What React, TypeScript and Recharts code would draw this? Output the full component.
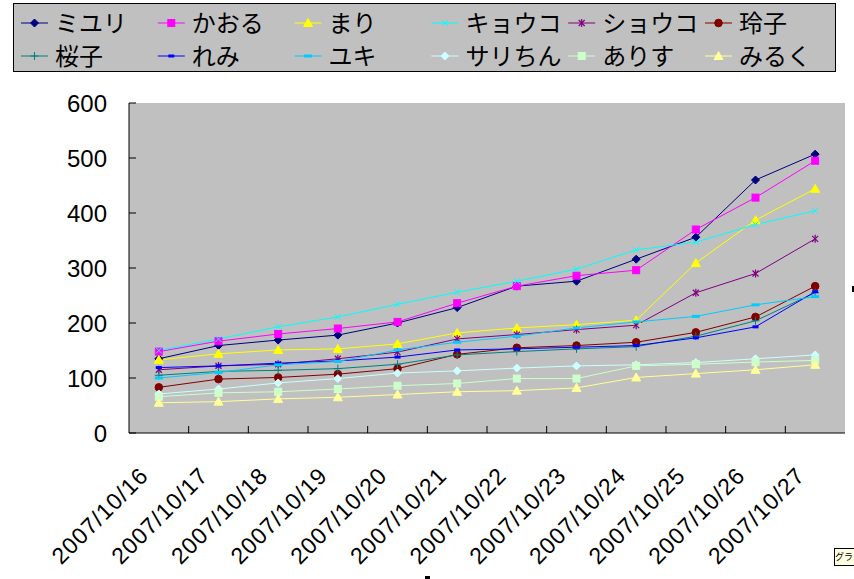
import { CartesianGrid, Legend, Line, LineChart, XAxis, YAxis } from 'recharts';

const dates = [
  '2007/10/16', '2007/10/17', '2007/10/18', '2007/10/19', '2007/10/20', '2007/10/21',
  '2007/10/22', '2007/10/23', '2007/10/24', '2007/10/25', '2007/10/26', '2007/10/27'
];
const yTicks = [0, 100, 200, 300, 400, 500, 600];

const miyuri = [135, 159, 169, 178, 200, 228, 267, 276, 316, 356, 460, 507];
const kaoru = [148, 167, 180, 190, 202, 236, 267, 286, 296, 370, 428, 495];
const mari = [133, 144, 151, 153, 162, 182, 191, 197, 205, 309, 387, 444];
const kyouko = [150, 171, 193, 211, 234, 256, 276, 298, 333, 347, 379, 404];
const shouko = [115, 122, 125, 135, 147, 171, 179, 188, 196, 255, 290, 353];
const reiko = [83, 98, 101, 107, 117, 143, 155, 159, 165, 183, 211, 267];
const sakurako = [105, 112, 114, 117, 125, 142, 148, 153, 157, 176, 204, 255];
const remi = [119, 122, 127, 131, 138, 151, 153, 156, 159, 173, 193, 257];
const yuki = [100, 110, 124, 130, 151, 165, 176, 191, 202, 212, 233, 248];
const sarichan = [71, 80, 91, 99, 109, 113, 118, 122, 124, 128, 135, 142];
const arisu = [66, 73, 75, 80, 86, 90, 99, 99, 122, 125, 129, 132];
const miruku = [55, 57, 62, 65, 70, 75, 77, 82, 101, 108, 115, 124];

const series = [
  { name: 'ミユリ', values: miyuri },
  { name: 'かおる', values: kaoru },
  { name: 'まり', values: mari },
  { name: 'キョウコ', values: kyouko },
  { name: 'ショウコ', values: shouko },
  { name: '玲子', values: reiko },
  { name: '桜子', values: sakurako },
  { name: 'れみ', values: remi },
  { name: 'ユキ', values: yuki },
  { name: 'サリちん', values: sarichan },
  { name: 'ありす', values: arisu },
  { name: 'みるく', values: miruku }
];

// excel-ish default palette + marker sequence
const styles = [
  { color: '#000080', marker: 'diamond' },
  { color: '#ff00ff', marker: 'square' },
  { color: '#ffff00', marker: 'triangle' },
  { color: '#00ffff', marker: 'x' },
  { color: '#800080', marker: 'star' },
  { color: '#800000', marker: 'circle' },
  { color: '#008080', marker: 'plus' },
  { color: '#0000ff', marker: 'dash' },
  { color: '#00ccff', marker: 'longdash' },
  { color: '#ccffff', marker: 'diamond' },
  { color: '#ccffcc', marker: 'square' },
  { color: '#ffff99', marker: 'triangle' }
];

const data = dates.map((date, i) => {
  const row: Record<string, string | number> = { date };
  series.forEach((s) => (row[s.name] = s.values[i]));
  return row;
});

const W = 854;
const H = 579;
const PLOT_LEFT = 129;
const PLOT_RIGHT = 845;
const HALF_BAND = (PLOT_RIGHT - PLOT_LEFT) / dates.length / 2;
const FONT = "'Liberation Sans', Arial, sans-serif";
const JP_FONT = "'Noto Sans CJK JP', sans-serif";

function Marker({ shape, cx, cy, color }: { shape: string; cx: number; cy: number; color: string }) {
  if (cx == null || cy == null) return null;
  switch (shape) {
    case 'diamond':
      return <polygon points={`${cx},${cy - 4} ${cx + 4},${cy} ${cx},${cy + 4} ${cx - 4},${cy}`} fill={color} stroke={color} />;
    case 'square':
      return <rect x={cx - 3.5} y={cy - 3.5} width={7} height={7} fill={color} stroke={color} />;
    case 'triangle':
      return <polygon points={`${cx},${cy - 4.5} ${cx + 4.5},${cy + 3.5} ${cx - 4.5},${cy + 3.5}`} fill={color} stroke={color} />;
    case 'x':
      return (
        <g stroke={color} strokeWidth={1}>
          <line x1={cx - 3} y1={cy - 3} x2={cx + 3} y2={cy + 3} />
          <line x1={cx - 3} y1={cy + 3} x2={cx + 3} y2={cy - 3} />
        </g>
      );
    case 'star':
      return (
        <g stroke={color} strokeWidth={1.2}>
          <line x1={cx - 3} y1={cy - 3} x2={cx + 3} y2={cy + 3} />
          <line x1={cx - 3} y1={cy + 3} x2={cx + 3} y2={cy - 3} />
          <line x1={cx} y1={cy - 4} x2={cx} y2={cy + 4} />
        </g>
      );
    case 'circle':
      return <circle cx={cx} cy={cy} r={3.8} fill={color} stroke={color} />;
    case 'plus':
      return (
        <g stroke={color} strokeWidth={1}>
          <line x1={cx - 4} y1={cy} x2={cx + 4} y2={cy} />
          <line x1={cx} y1={cy - 4} x2={cx} y2={cy + 4} />
        </g>
      );
    case 'dash':
      return <rect x={cx - 3} y={cy - 1.5} width={6} height={3} fill={color} />;
    case 'longdash':
      return <rect x={cx - 4} y={cy - 1.5} width={8} height={3} fill={color} />;
    default:
      return null;
  }
}

function LegendBox() {
  return (
    <svg width={W} height={76} style={{ display: 'block' }}>
      <rect x={13.5} y={3.5} width={822} height={68} fill="#c0c0c0" stroke="#000" />
      {series.map((s, i) => {
        const col = i % 6;
        const row = Math.floor(i / 6);
        const lx = 21 + col * 136.8;
        const ly = row === 0 ? 23 : 56;
        const st = styles[i];
        return (
          <g key={s.name}>
            <line x1={lx} y1={ly} x2={lx + 27} y2={ly} stroke={st.color} strokeWidth={1} />
            <Marker shape={st.marker} cx={lx + 13.5} cy={ly} color={st.color} />
            <text x={lx + 34} y={ly} dy="0.36em" fontSize={24} fontFamily={JP_FONT} fill="#000">
              {s.name}
            </text>
          </g>
        );
      })}
    </svg>
  );
}

function DateTick(props: any) {
  const { x, y, payload, index } = props;
  const tx = x - 9;
  const ty = y + 44;
  return (
    <g>
      <text
        x={tx}
        y={ty}
        textAnchor="end"
        transform={`rotate(-45 ${tx} ${ty})`}
        fontSize={23}
        fontFamily={FONT}
        letterSpacing={1}
        fill="#000"
      >
        {payload.value}
      </text>
      {index < dates.length - 1 && <line x1={x + HALF_BAND} y1={y} x2={x + HALF_BAND} y2={y - 7} stroke="#000" />}
    </g>
  );
}

function ValueTick(props: any) {
  const { x, y, payload } = props;
  return (
    <g>
      <text x={x - 22} y={y} dy="0.36em" textAnchor="end" fontSize={24} fontFamily={FONT} fill="#000">
        {payload.value}
      </text>
      <line x1={x} y1={y} x2={x + 7} y2={y} stroke="#000" />
    </g>
  );
}

export default function App() {
  return (
    <div style={{ position: 'absolute', left: 0, top: 0, width: W, height: H, background: '#fff' }}>
      <LineChart width={W} height={H} data={data} margin={{ top: 103, right: W - PLOT_RIGHT, bottom: 0, left: 0 }}>
        <CartesianGrid fill="#c0c0c0" horizontal={false} vertical={false} />
        <XAxis
          dataKey="date"
          height={146}
          padding={{ left: HALF_BAND, right: HALF_BAND }}
          tickLine={false}
          tickSize={0}
          tickMargin={0}
          interval={0}
          axisLine={{ stroke: '#000' }}
          tick={<DateTick />}
        />
        <XAxis
          xAxisId="top"
          dataKey="date"
          orientation="top"
          height={0}
          padding={{ left: HALF_BAND, right: HALF_BAND }}
          tick={false}
          tickLine={false}
          axisLine={{ stroke: '#808080' }}
        />
        <YAxis
          width={PLOT_LEFT}
          domain={[0, 600]}
          ticks={yTicks}
          interval={0}
          tickLine={false}
          tickSize={0}
          tickMargin={0}
          axisLine={{ stroke: '#000' }}
          tick={<ValueTick />}
        />
        <YAxis yAxisId="right" orientation="right" width={0} domain={[0, 600]} tick={false} tickLine={false} axisLine={{ stroke: '#808080' }} />
        <Legend
          layout="horizontal"
          verticalAlign="middle"
          align="center"
          wrapperStyle={{ top: 0, left: 0, width: W, height: 76 }}
          content={() => <LegendBox />}
        />
        {series.map((s, i) => {
          const st = styles[i];
          return (
            <Line
              key={s.name}
              dataKey={s.name}
              stroke={st.color}
              strokeWidth={1}
              isAnimationActive={false}
              activeDot={false}
              dot={(p: any) => <Marker key={`${s.name}-${p.index}`} shape={st.marker} cx={p.cx} cy={p.cy} color={st.color} />}
            />
          );
        })}
      </LineChart>
      <div
        style={{
          position: 'absolute',
          left: 834,
          top: 548,
          width: 19,
          height: 16,
          background: '#ffffe1',
          border: '1px solid #000',
          borderRight: 'none',
          fontSize: 9,
          fontFamily: JP_FONT,
          whiteSpace: 'nowrap',
          overflow: 'hidden',
          lineHeight: '16px'
        }}
      >
        グラ
      </div>
      <div style={{ position: 'absolute', left: 425, top: 576, width: 5, height: 3, background: '#000' }} />
      <div style={{ position: 'absolute', left: 852, top: 286, width: 2, height: 6, background: '#000' }} />
    </div>
  );
}
